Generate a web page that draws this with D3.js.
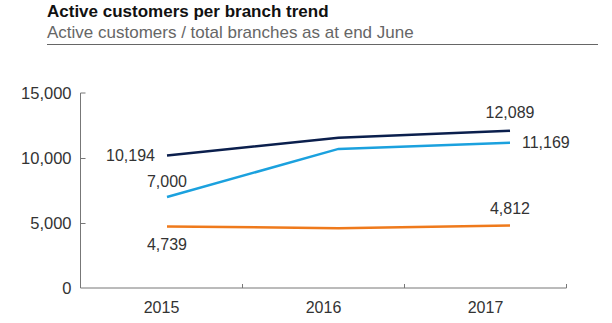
<!DOCTYPE html>
<html>
<head>
<meta charset="utf-8">
<script src="https://cdn.jsdelivr.net/npm/d3@7"></script>
<style>
  html, body { margin: 0; padding: 0; background: #fff; }
  svg { display: block; font-family: "Liberation Sans", Arial, sans-serif; }
</style>
</head>
<body>
<svg id="chart" width="612" height="323"></svg>
<script>
// Chart data
const years = ["2015", "2016", "2017"];
const perBranch = [10194, 11550, 12089];      // navy
const perBranchAlt = [7000, 10700, 11169];    // light blue
const perBranchLow = [4739, 4600, 4812];      // orange
const yTicks = [0, 5000, 10000, 15000];

const seriesList = [
  { values: perBranch, color: "#0b1f4d" },
  { values: perBranchAlt, color: "#1ba1de" },
  { values: perBranchLow, color: "#ef7a1c" }
];

const svg = d3.select("#chart");
const fmt = d3.format(",");

// Title block
svg.append("text").attr("x", 47).attr("y", 17)
  .attr("font-size", 17).attr("font-weight", "bold").attr("fill", "#111")
  .text("Active customers per branch trend");
svg.append("text").attr("x", 47).attr("y", 37.5)
  .attr("font-size", 17).attr("fill", "#666")
  .text("Active customers / total branches as at end June");
svg.append("line").attr("x1", 47).attr("x2", 598).attr("y1", 44.5).attr("y2", 44.5)
  .attr("stroke", "#666").attr("stroke-width", 1);

// Plot frame
const plotLeft = 80.5, plotRight = 566.5, plotTop = 93, plotBottom = 288;
const y = d3.scaleLinear().domain([0, 15000]).range([plotBottom, plotTop]);
const xBand = d3.scaleBand().domain(years).range([plotLeft, plotRight]).padding(0);
const xLine = d3.scalePoint().domain(years).range([167, 510]);

// Y axis with inward ticks
const yAxis = svg.append("g").attr("transform", `translate(${plotLeft},0)`)
  .call(d3.axisLeft(y).tickValues(yTicks).tickFormat(fmt).tickSize(0).tickPadding(9));
yAxis.select(".domain").attr("stroke", "#777").attr("d", `M5,${plotTop}H0V${plotBottom}`);
yAxis.selectAll(".tick line").attr("stroke", "#777").attr("x2", d => (d === 0 || d === 15000) ? 0 : 5);
yAxis.selectAll(".tick text").attr("font-size", 16.5).attr("fill", "#333")
  .attr("font-family", "Liberation Sans, Arial, sans-serif");

// X axis: labels centred in bands, ticks at band boundaries
const xAxis = svg.append("g").attr("transform", `translate(0,${plotBottom})`)
  .call(d3.axisBottom(xBand).tickSize(0).tickPadding(14));
xAxis.select(".domain").attr("stroke", "#777").attr("d", `M${plotLeft},0H${plotRight}`);
xAxis.selectAll(".tick text").attr("font-size", 16).attr("fill", "#333")
  .attr("font-family", "Liberation Sans, Arial, sans-serif");
xAxis.selectAll("line.bound")
  .data(years.map(d => xBand(d) + xBand.bandwidth()))
  .enter().append("line").attr("class", "bound")
  .attr("x1", d => d).attr("x2", d => d).attr("y1", 0).attr("y2", -4)
  .attr("stroke", "#777");

// Series lines
const line = d3.line().x((d, i) => xLine(years[i])).y(d => y(d));
svg.selectAll("path.series").data(seriesList).enter().append("path")
  .attr("class", "series")
  .attr("d", s => line(s.values))
  .attr("fill", "none").attr("stroke", s => s.color).attr("stroke-width", 2.5);

// Value labels at first and last points
const lbl = (x, yy, anchor, v) => svg.append("text")
  .attr("x", x).attr("y", yy).attr("text-anchor", anchor)
  .attr("font-size", 16).attr("fill", "#333").text(fmt(v));

const x0 = xLine(years[0]), x2 = xLine(years[2]);
lbl(x0 - 12, y(perBranch[0]) + 6, "end", perBranch[0]);
lbl(x0, y(perBranchAlt[0]) - 10, "middle", perBranchAlt[0]);
lbl(x0, y(perBranchLow[0]) + 24, "middle", perBranchLow[0]);
lbl(x2, y(perBranch[2]) - 13, "middle", perBranch[2]);
lbl(x2 + 12, y(perBranchAlt[2]) + 5, "start", perBranchAlt[2]);
lbl(x2, y(perBranchLow[2]) - 11, "middle", perBranchLow[2]);
</script>
</body>
</html>
